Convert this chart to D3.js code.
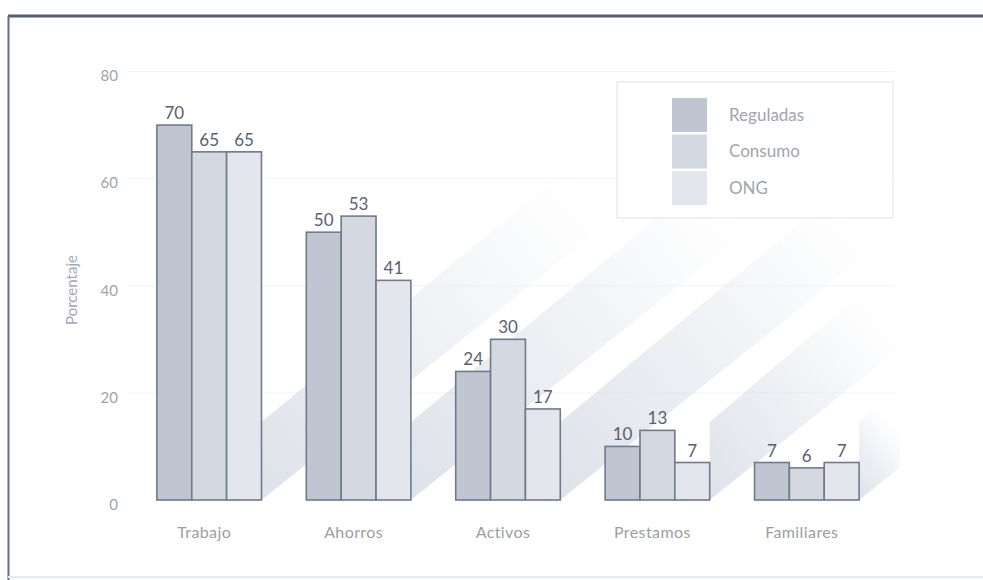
<!DOCTYPE html>
<html>
<head>
<meta charset="utf-8">
<script src="https://cdn.jsdelivr.net/npm/d3@7/dist/d3.min.js"></script>
<style>
  html, body { margin: 0; padding: 0; background: #ffffff; }
  svg { display: block; }
  text { font-family: Lato, "Open Sans", sans-serif; }
</style>
</head>
<body>
<svg id="chart" width="983" height="580"></svg>
<script>
// Source data: percentage of respondents by income source and institution type
const categories = ["Trabajo", "Ahorros", "Activos", "Prestamos", "Familiares"];
const seriesNames = ["Reguladas", "Consumo", "ONG"];
const reguladas = [70, 50, 24, 10, 7];
const consumo   = [65, 53, 30, 13, 6];
const ong       = [65, 41, 17, 7, 7];
const yTicks = [0, 20, 40, 60, 80];
const yLabel = "Porcentaje";

const seriesValues = [reguladas, consumo, ong];
const fills = ["#bfc6d2", "#d3d8e1", "#e3e6ed"];
const stroke = "#6f7a8c";

const svg = d3.select("#chart");
const W = 983, H = 580;

// outer frame (top and left rules of the printed panel)
svg.append("line").attr("x1", 8).attr("x2", W).attr("y1", 16).attr("y2", 16)
  .attr("stroke", "#4d5d7b").attr("stroke-width", 3);
svg.append("line").attr("x1", 8.5).attr("x2", 8.5).attr("y1", 16).attr("y2", H)
  .attr("stroke", "#5f6e8c").attr("stroke-width", 2);
svg.append("line").attr("x1", 8).attr("x2", W).attr("y1", 577).attr("y2", 577)
  .attr("stroke", "#e3ecf6").attr("stroke-width", 2);

const x0 = d3.scaleBand().domain(categories).range([134.5, 881.5])
  .paddingInner(0.3).paddingOuter(0.15);
const x1 = d3.scaleBand().domain(seriesNames).range([0, x0.bandwidth()]);
const y = d3.scaleLinear().domain([0, 80]).range([500, 71.5]);

// faint gridlines
svg.append("g").selectAll("line").data(yTicks.filter(d => d > 0)).join("line")
  .attr("x1", 128).attr("x2", 895)
  .attr("y1", d => y(d)).attr("y2", d => y(d))
  .attr("stroke", "#f3f4f6").attr("stroke-width", 1);

// diagonal drop shadows cast by each group, kept inside the plot panel
const defs = svg.append("defs");
defs.append("clipPath").attr("id", "panel")
  .append("rect").attr("x", 120).attr("y", 60).attr("width", 780).attr("height", 445);
const base = y(0);
const slope = 0.8, thick = 78;
const reach = [350, 340, 320, 200, 60];
const shadowLayer = svg.append("g").attr("clip-path", "url(#panel)");
categories.forEach((c, i) => {
  const xs = x0(c) + x0.bandwidth();
  const L = reach[i];
  const gid = "shade" + i;
  const g = defs.append("linearGradient").attr("id", gid)
    .attr("gradientUnits", "userSpaceOnUse")
    .attr("x1", xs).attr("y1", base).attr("x2", xs + L).attr("y2", base - L * slope);
  g.append("stop").attr("offset", 0).attr("stop-color", "#d5dae3").attr("stop-opacity", 0.8);
  g.append("stop").attr("offset", 0.5).attr("stop-color", "#dde1e9").attr("stop-opacity", 0.5);
  g.append("stop").attr("offset", 1).attr("stop-color", "#e8ebf0").attr("stop-opacity", 0);
  const pts = [
    [xs, base],
    [xs, base - thick],
    [xs + L, base - thick - L * slope - 10],
    [xs + L, base - L * slope]
  ];
  shadowLayer.append("path").attr("d", d3.line()(pts) + "Z").attr("fill", `url(#${gid})`);
});

// legend
const legend = svg.append("g");
legend.append("rect").attr("x", 617).attr("y", 82).attr("width", 276).attr("height", 136)
  .attr("fill", "#ffffff").attr("stroke", "#eef0f3").attr("stroke-width", 2);
const swY = [98, 134.5, 171];
seriesNames.forEach((s, i) => {
  legend.append("rect").attr("x", 672).attr("y", swY[i]).attr("width", 35).attr("height", 34)
    .attr("fill", fills[i]);
  legend.append("text").attr("x", 729).attr("y", swY[i] + 17).attr("dy", "0.35em")
    .attr("font-size", 17).attr("fill", "#a0a5ae").text(s);
});

// bars
const groups = svg.append("g").selectAll("g").data(categories).join("g")
  .attr("transform", c => `translate(${x0(c)},0)`);
groups.each(function(c, ci) {
  const g = d3.select(this);
  seriesNames.forEach((s, si) => {
    const v = seriesValues[si][ci];
    g.append("rect")
      .attr("x", x1(s)).attr("y", y(v))
      .attr("width", x1.bandwidth()).attr("height", y(0) - y(v))
      .attr("fill", fills[si]).attr("stroke", stroke).attr("stroke-width", 1.6);
    g.append("text")
      .attr("x", x1(s) + x1.bandwidth() / 2).attr("y", y(v) - 6)
      .attr("text-anchor", "middle").attr("font-size", 17).attr("fill", "#58606e")
      .text(v);
  });
});

// y axis (labels only)
const yAxis = d3.axisLeft(y).tickValues(yTicks).tickSize(0).tickPadding(0);
const ya = svg.append("g").attr("transform", "translate(118,0)").call(yAxis);
ya.select(".domain").remove();
ya.selectAll("text").attr("font-size", 15).attr("fill", "#a0a4aa")
  .attr("dy", "0.62em").style("font-family", "Lato, sans-serif");

// x axis (category labels only)
const xAxis = d3.axisBottom(x0).tickSize(0).tickPadding(0);
const xa = svg.append("g").attr("transform", `translate(-5,${y(0) + 27})`).call(xAxis);
xa.select(".domain").remove();
xa.selectAll("text").attr("font-size", 16).attr("fill", "#9a9ea6")
  .attr("letter-spacing", "0.4px").style("font-family", "Lato, sans-serif");

// y axis title
svg.append("text").attr("transform", "translate(77,290) rotate(-90)")
  .attr("text-anchor", "middle").attr("font-size", 15).attr("fill", "#9ea8ba")
  .text(yLabel);
</script>
</body>
</html>
